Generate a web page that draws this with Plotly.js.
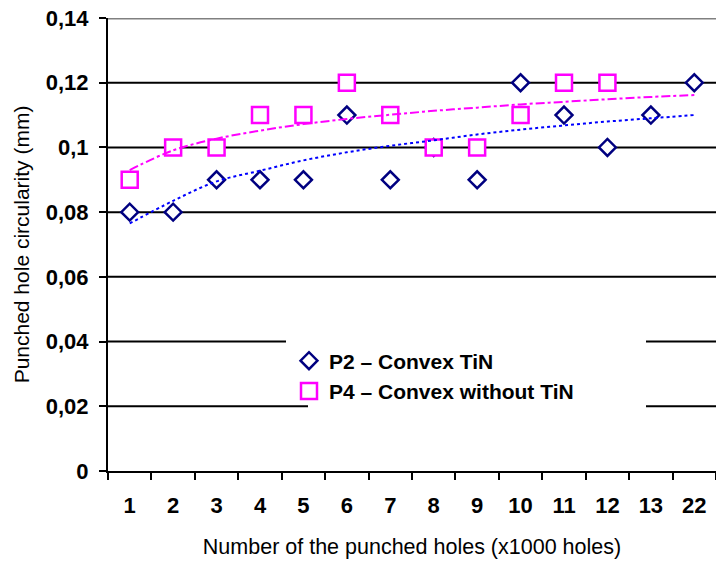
<!DOCTYPE html>
<html>
<head>
<meta charset="utf-8">
<script src="https://cdn.plot.ly/plotly-3.0.1.min.js"></script>
<style>html,body{margin:0;padding:0;background:#fff;}#chart{width:716px;height:562px;}</style>
</head>
<body>
<div id="chart"></div>
<script>
// Categories (x1000 holes)
const categories = ['1','2','3','4','5','6','7','8','9','10','11','12','13','22'];
// P2 – Convex TiN
const p2Values = [0.08,0.08,0.09,0.09,0.09,0.11,0.09,0.10,0.09,0.12,0.11,0.10,0.11,0.12];
// P4 – Convex without TiN (no values at 13 and 22)
const p4Values = [0.09,0.10,0.10,0.11,0.11,0.12,0.11,0.10,0.10,0.11,0.12,0.12,null,null];
// Trend lines at each category
const p2Trend = [0.0765,0.0835,0.0895,0.0928,0.0960,0.0985,0.1005,0.1022,0.1040,0.1055,0.1068,0.1080,0.1090,0.1100];
const p4Trend = [0.0930,0.0991,0.1027,0.1052,0.1072,0.1088,0.1101,0.1113,0.1123,0.1133,0.1141,0.1149,0.1156,0.1162];
// Y ticks
const yTickVals = [0,0.02,0.04,0.06,0.08,0.10,0.12,0.14];
const yTickText = ['0','0,02','0,04','0,06','0,08','0,1','0,12','0,14'];
const seriesNames = ['P2 – Convex TiN','P4 – Convex without TiN'];

const FONT = 'Liberation Sans, Arial, Helvetica, sans-serif';

const traces = [
  {
    x: categories, y: p2Values, type: 'scatter', mode: 'markers', name: seriesNames[0],
    marker: {symbol: 'diamond', size: 13, color: '#FFFFFF', line: {width: 2.5, color: '#000080'}},
    cliponaxis: false
  },
  {
    x: categories, y: p4Values, type: 'scatter', mode: 'markers', name: seriesNames[1],
    marker: {symbol: 'square', size: 16, color: '#FFFFFF', line: {width: 2.5, color: '#FF00FF'}},
    cliponaxis: false
  },
  {
    x: categories, y: p2Trend, type: 'scatter', mode: 'lines', showlegend: false, hoverinfo: 'skip',
    line: {color: '#0000FF', width: 2, dash: 'dot', shape: 'spline'}
  },
  {
    x: categories, y: p4Trend, type: 'scatter', mode: 'lines', showlegend: false, hoverinfo: 'skip',
    line: {color: '#FF00FF', width: 2, dash: 'dashdot', shape: 'spline'}
  }
];

// Gridlines (drawn as shapes so they can break behind the legend)
const L = 108, W = 608;
const px2dom = p => (p - L) / W;
const gridBreaks = {0.04: [286, 646], 0.02: [308, 646]};
const shapes = [];
yTickVals.forEach(v => {
  if (v === 0) return;
  if (v === 0.14) {
    shapes.push({type: 'line', layer: 'below', xref: 'x domain', yref: 'y', x0: 0, x1: 1, y0: v, y1: v,
                 line: {color: '#808080', width: 3}});
    return;
  }
  const br = gridBreaks[v];
  if (br) {
    shapes.push({type: 'line', layer: 'below', xref: 'x domain', yref: 'y', x0: 0, x1: px2dom(br[0]), y0: v, y1: v,
                 line: {color: '#000', width: 2}});
    shapes.push({type: 'line', layer: 'below', xref: 'x domain', yref: 'y', x0: px2dom(br[1]), x1: 1, y0: v, y1: v,
                 line: {color: '#000', width: 2}});
  } else {
    shapes.push({type: 'line', layer: 'below', xref: 'x domain', yref: 'y', x0: 0, x1: 1, y0: v, y1: v,
                 line: {color: '#000', width: 2}});
  }
});

const layout = {
  width: 716, height: 562,
  margin: {l: 108, r: 0, t: 18, b: 91, pad: 0},
  paper_bgcolor: '#fff', plot_bgcolor: 'rgba(0,0,0,0)',
  font: {family: FONT, color: '#000'},
  showlegend: true,
  legend: {
    x: 0.2977, y: 0.288, xanchor: 'left', yanchor: 'top',
    bgcolor: 'rgba(0,0,0,0)', borderwidth: 0,
    font: {family: FONT, size: 21, color: '#000', weight: 'bold'},
    tracegroupgap: 0
  },
  xaxis: {
    type: 'category',
    categoryorder: 'array', categoryarray: categories,
    range: [-0.5, 13.5],
    tickson: 'boundaries',
    ticks: 'outside', ticklen: 7, tickwidth: 2, tickcolor: '#000',
    showline: true, linecolor: '#000', linewidth: 2,
    showgrid: false, zeroline: false,
    tickfont: {family: FONT, size: 22, color: '#000', weight: 'bold'},
    ticklabelstandoff: 14,
    title: {text: 'Number of the punched holes (x1000 holes)', font: {family: FONT, size: 21.5, color: '#000'}, standoff: 22}
  },
  yaxis: {
    range: [0, 0.14],
    tickmode: 'array', tickvals: yTickVals, ticktext: yTickText,
    ticks: 'outside', ticklen: 7, tickwidth: 2, tickcolor: '#000',
    showline: true, linecolor: '#000', linewidth: 2,
    showgrid: false,
    zeroline: false,
    tickfont: {family: FONT, size: 22, color: '#000', weight: 'bold'},
    ticklabelstandoff: 6,
    title: {text: 'Punched hole circularity (mm)', font: {family: FONT, size: 21, color: '#000'}, standoff: 10}
  },
  shapes: shapes
};

Plotly.newPlot('chart', traces, layout, {displayModeBar: false, staticPlot: true});
</script>
</body>
</html>
